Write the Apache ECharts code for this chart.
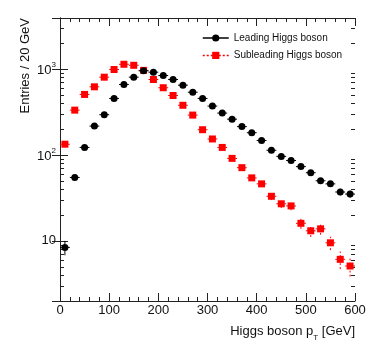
<!DOCTYPE html>
<html>
<head>
<meta charset="utf-8">
<script src="https://cdn.jsdelivr.net/npm/echarts@6/dist/echarts.min.js"></script>
<style>
html, body { margin: 0; padding: 0; background: #fff; }
#chart { width: 374px; height: 359px; }
</style>
</head>
<body>
<div id="chart"></div>
<script>
// bin centres, GeV (20 GeV bins)
const binCentres = [10, 30, 50, 70, 90, 110, 130, 150, 170, 190, 210, 230, 250, 270, 290,
    310, 330, 350, 370, 390, 410, 430, 450, 470, 490, 510, 530, 550, 570, 590];
const halfBin = 10;

const leadingValues = [8.4, 54.6, 122, 216, 293, 453, 658, 800, 948, 914, 836, 752, 646, 535, 453,
    369, 306, 260, 213, 181, 147, 113, 96, 86, 73, 62, 50, 46, 37, 35];
const leadingErrors = [1.6, 4.1, 6.1, 8.1, 9.4, 11.7, 14, 15.6, 17, 16.6, 15.9, 15, 14, 12.7, 11.7,
    10.6, 9.6, 8.9, 8, 7.4, 6.7, 5.8, 5.4, 5.1, 4.7, 4.3, 3.9, 3.7, 3.3, 3.3];

const subleadingValues = [133, 331, 504, 618, 800, 982, 1130, 1100, 960, 752, 603, 490, 377, 290, 196,
    153, 122, 91, 71, 54, 46, 33, 27, 25.5, 16, 13.1, 13.8, 9.5, 6.1, 5.1];
const subleadingErrors = [6.3, 10, 12.3, 13.7, 15.6, 17.2, 18.5, 18.2, 17, 15, 13.5, 12.2, 10.7, 9.4, 7.7,
    6.8, 6.1, 5.2, 4.6, 4, 3.7, 3.2, 2.9, 2.8, 2.2, 2, 2, 1.7, 1.4, 1.25];

const xTickLabels = ['0', '100', '200', '300', '400', '500', '600'];
const yTickLabels = { 10: '{b|10}', 100: '{b|10}{s|2}', 1000: '{b|10}{s|3}' };
const yMinorTicks = [3, 4, 5, 6, 7, 8, 9, 20, 30, 40, 50, 60, 70, 80, 90,
    200, 300, 400, 500, 600, 700, 800, 900, 2000, 3000];

const leadingName = 'Leading Higgs boson';
const subleadingName = 'Subleading Higgs boson';

const chart = echarts.init(document.getElementById('chart'));

function points(values, errors) {
    return binCentres.map((x, i) => [x, values[i], errors[i]]);
}

function errorBars(color, dash) {
    return function (params, api) {
        const x = api.value(0);
        const y = api.value(1);
        const e = api.value(2);
        const lo = api.coord([x, y - e]);
        const hi = api.coord([x, y + e]);
        const l = api.coord([x - halfBin, y]);
        const r = api.coord([x + halfBin, y]);
        const style = { stroke: color, lineWidth: 1, lineDash: dash };
        return {
            type: 'group',
            children: [
                { type: 'line', shape: { x1: lo[0], y1: lo[1], x2: hi[0], y2: hi[1] }, style: style },
                { type: 'line', shape: { x1: l[0], y1: l[1], x2: r[0], y2: r[1] }, style: style }
            ]
        };
    };
}

// log minor ticks on both vertical frame sides
function minorTicks(params, api) {
    const cs = params.coordSys;
    const y = Math.round(api.coord([0, api.value(1)])[1]) + 0.5;
    const style = { stroke: '#222', lineWidth: 1 };
    return {
        type: 'group',
        children: [
            { type: 'line', shape: { x1: cs.x, y1: y, x2: cs.x + 4, y2: y }, style: style },
            { type: 'line', shape: { x1: cs.x + cs.width - 4, y1: y, x2: cs.x + cs.width, y2: y }, style: style }
        ]
    };
}

const frame = { lineStyle: { color: '#222', width: 1 } };
const ticks = { inside: true, length: 8, lineStyle: { color: '#222' } };

const xBase = {
    type: 'value', min: 0, max: 600, interval: 100,
    axisLine: frame, axisTick: ticks,
    minorTick: { show: true, splitNumber: 5, length: 4, lineStyle: { color: '#222' } },
    splitLine: { show: false }
};
const yBase = {
    type: 'log', logBase: 10, min: 2, max: 3900,
    axisLine: frame, axisTick: ticks,
    minorTick: { show: false },
    splitLine: { show: false }
};

chart.setOption({
    animation: false,
    backgroundColor: '#fff',
    textStyle: { fontFamily: 'Liberation Sans, Arial, sans-serif' },
    grid: { left: 60, right: 19, top: 18, bottom: 58 },
    legend: {
        left: 197, top: 28, orient: 'vertical',
        itemWidth: 26, itemHeight: 9, itemGap: 7.4,
        textStyle: { fontSize: 10, color: '#111' },
        data: [
            { name: leadingName, lineStyle: { opacity: 1, width: 1.5, color: '#000', type: 'solid' } },
            { name: subleadingName, lineStyle: { opacity: 1, width: 1.5, color: '#f00', type: [2, 2] } }
        ]
    },
    xAxis: [
        Object.assign({}, xBase, {
            position: 'bottom',
            name: '{m|Higgs boson p}{sub|T}{m| [GeV]}',
            nameLocation: 'end',
            nameGap: 0,
            nameTextStyle: {
                fontSize: 13, color: '#111', align: 'right', verticalAlign: 'top',
                padding: [24, 0, 0, 0],
                rich: {
                    m: { fontSize: 13, color: '#111', verticalAlign: 'top' },
                    sub: { fontSize: 8, color: '#111', verticalAlign: 'bottom', padding: [9, 0, 0, 0] }
                }
            },
            axisLabel: {
                fontSize: 13, color: '#111', margin: 3,
                formatter: v => xTickLabels[Math.round(v / 100)] || ''
            }
        }),
        Object.assign({}, xBase, { position: 'top', axisLabel: { show: false } })
    ],
    yAxis: [
        Object.assign({}, yBase, {
            position: 'left',
            name: 'Entries / 20 GeV',
            nameLocation: 'end',
            nameRotate: 90,
            nameGap: 0,
            nameTextStyle: {
                fontSize: 13, color: '#111', align: 'right', verticalAlign: 'bottom',
                padding: [0, 0, 28, 0]
            },
            axisLabel: {
                fontSize: 13, color: '#111', margin: 4,
                formatter: v => yTickLabels[Math.round(v)] || '',
                rich: {
                    b: { fontSize: 13, color: '#111', verticalAlign: 'bottom' },
                    s: { fontSize: 8, color: '#111', verticalAlign: 'top', padding: [0, 0, 9, 0] }
                }
            }
        }),
        Object.assign({}, yBase, { position: 'right', axisLabel: { show: false } })
    ],
    series: [
        {
            type: 'custom', name: 'yMinor', xAxisIndex: 0, yAxisIndex: 0,
            renderItem: minorTicks, clip: false, silent: true,
            encode: { x: 0, y: 1 },
            data: yMinorTicks.map(v => [0, v]), z: 1
        },
        {
            type: 'custom', name: 'subleadingErr', xAxisIndex: 0, yAxisIndex: 0,
            renderItem: errorBars('#f00', [2, 2]),
            encode: { x: 0, y: 1 },
            data: points(subleadingValues, subleadingErrors), z: 2
        },
        {
            type: 'line', name: subleadingName, xAxisIndex: 0, yAxisIndex: 0,
            data: points(subleadingValues, subleadingErrors),
            symbol: 'rect', symbolSize: 7,
            itemStyle: { color: '#f00' },
            lineStyle: { opacity: 0 }, z: 3
        },
        {
            type: 'custom', name: 'leadingErr', xAxisIndex: 0, yAxisIndex: 0,
            renderItem: errorBars('#000', null),
            encode: { x: 0, y: 1 },
            data: points(leadingValues, leadingErrors), z: 4
        },
        {
            type: 'line', name: leadingName, xAxisIndex: 0, yAxisIndex: 0,
            data: points(leadingValues, leadingErrors),
            symbol: 'circle', symbolSize: 7,
            itemStyle: { color: '#000' },
            lineStyle: { opacity: 0 }, z: 5
        }
    ]
});
</script>
</body>
</html>
